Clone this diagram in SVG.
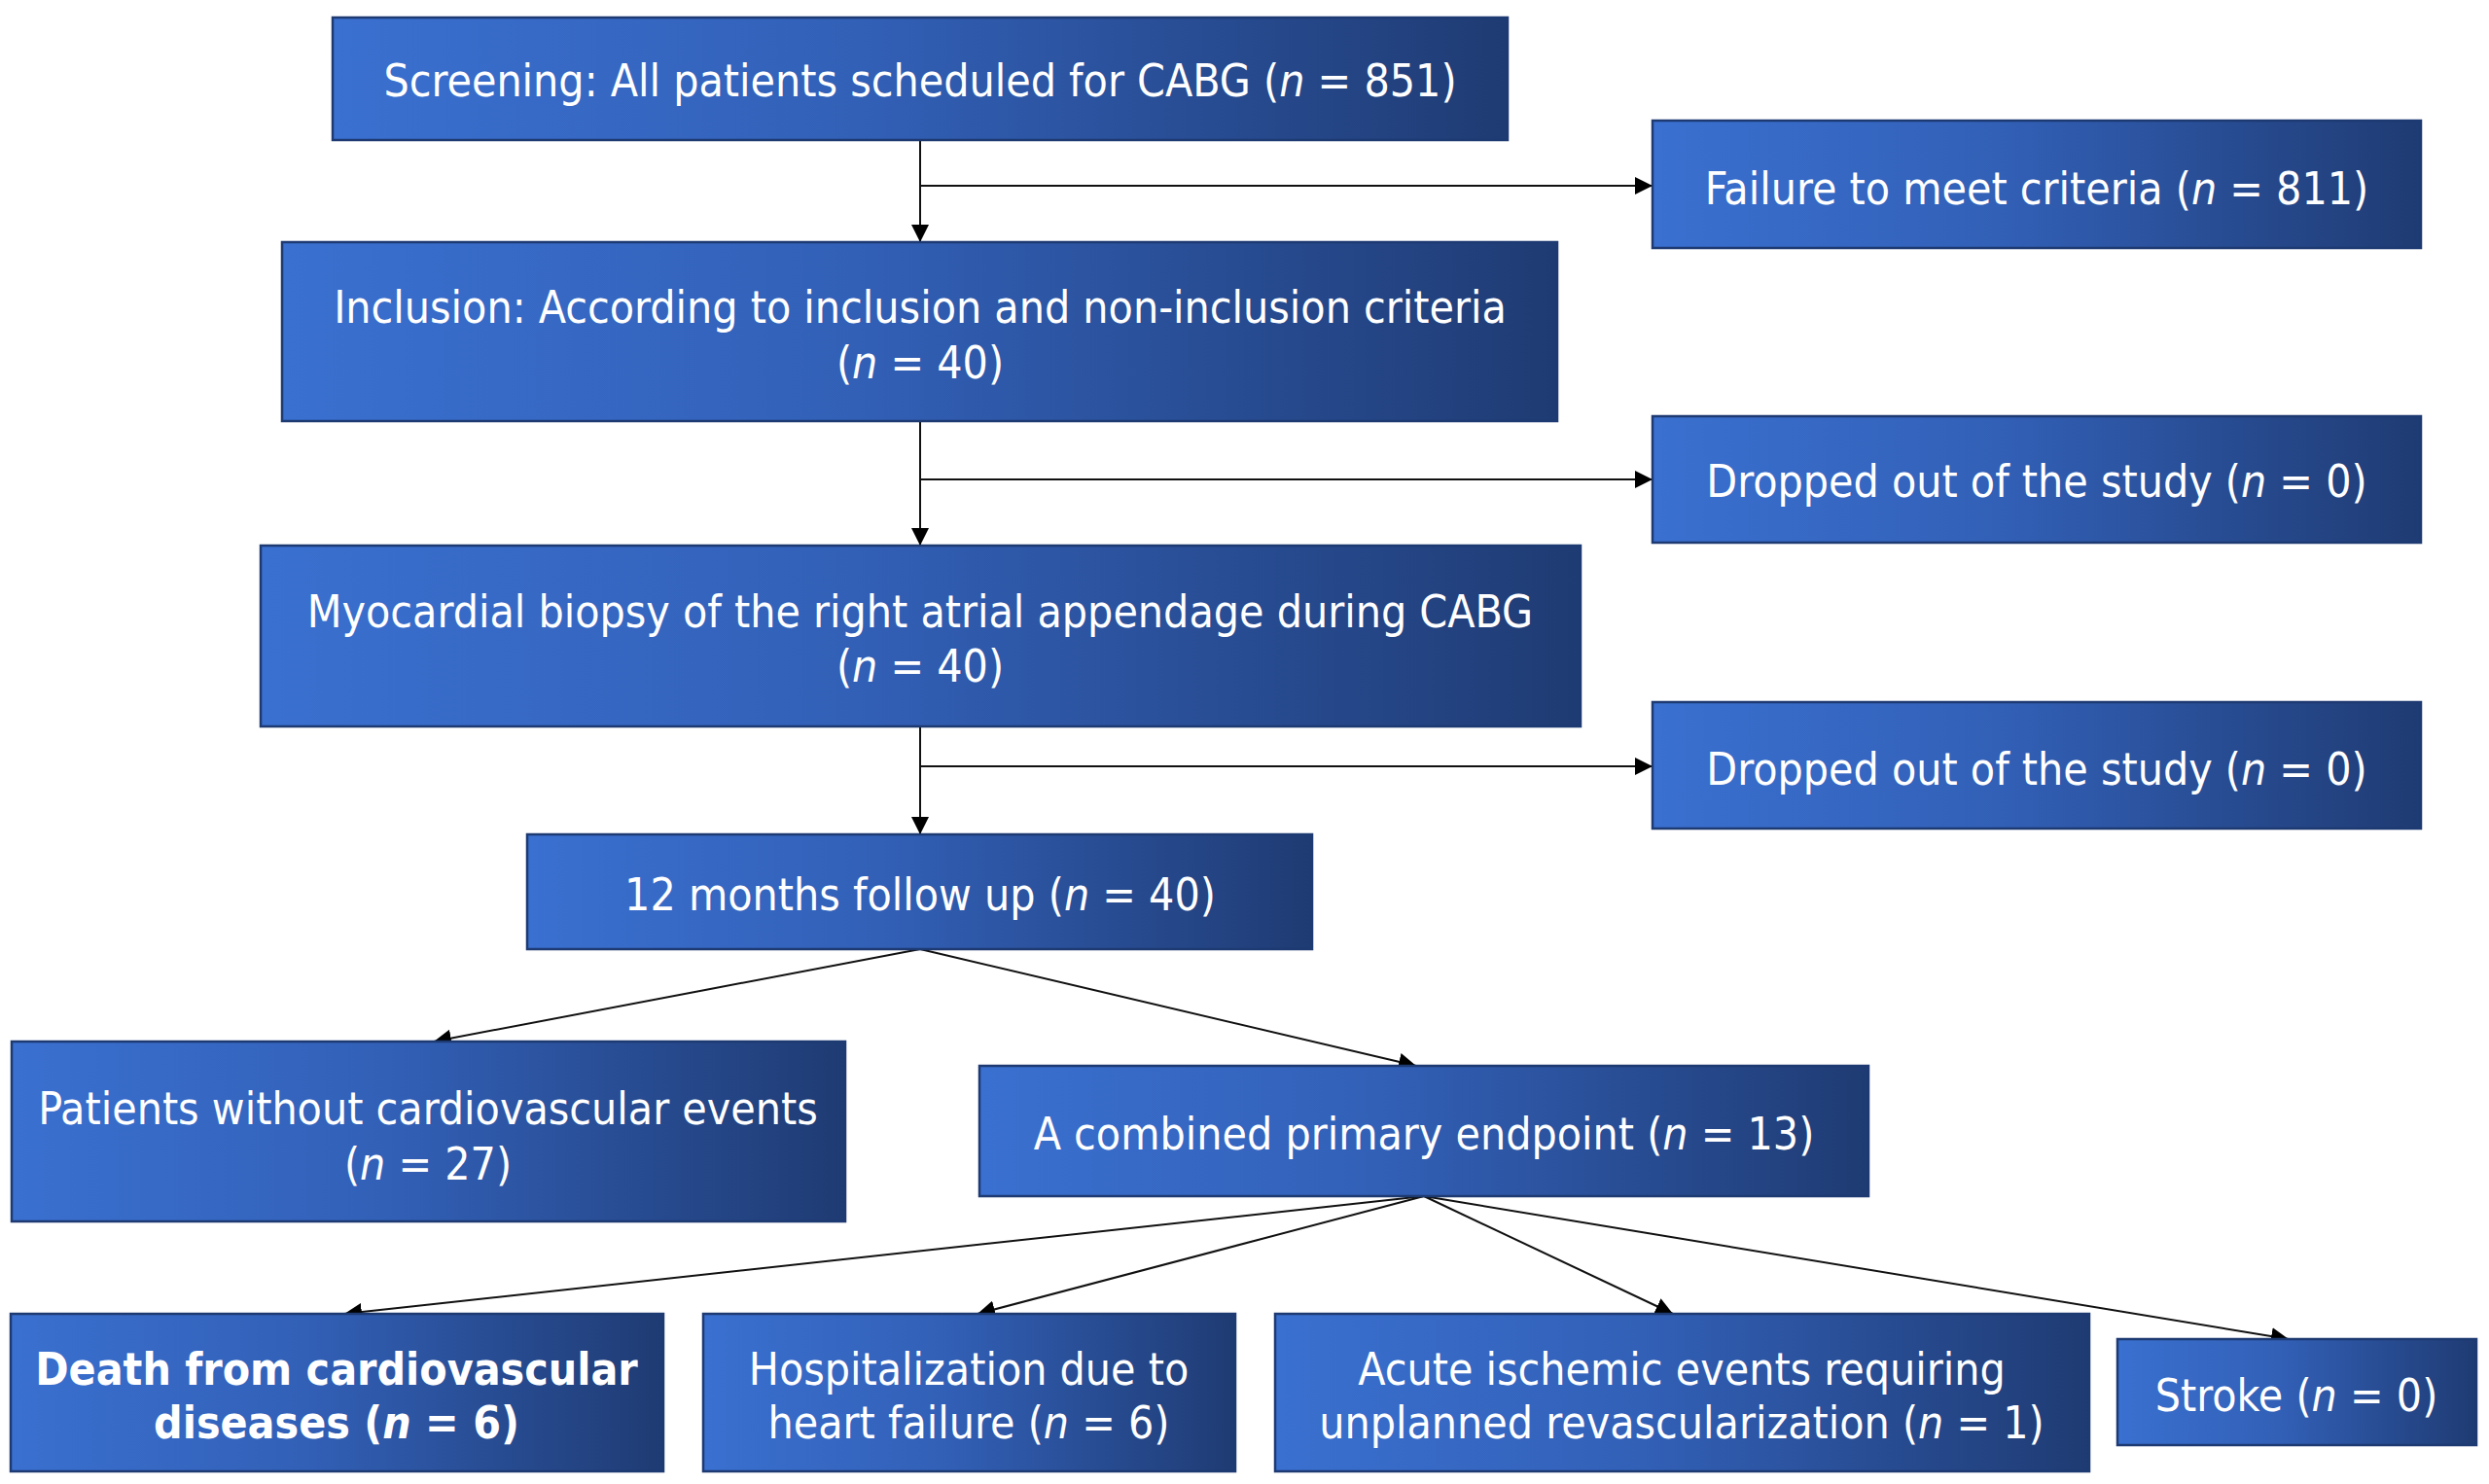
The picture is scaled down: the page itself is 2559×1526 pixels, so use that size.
<svg xmlns="http://www.w3.org/2000/svg" width="2559" height="1526" viewBox="0 0 2559 1526">
<defs>
<linearGradient id="g" x1="0" y1="0" x2="1" y2="0">
<stop offset="0" stop-color="#3A70D0"/>
<stop offset="0.45" stop-color="#3260B7"/>
<stop offset="1" stop-color="#1F3B73"/>
</linearGradient>
<marker id="ah" markerUnits="userSpaceOnUse" markerWidth="20" markerHeight="20" refX="18" refY="9" orient="auto">
<path d="M0,0 L18,9 L0,18 z" fill="#000"/>
</marker>
<style>
.box{fill:url(#g);stroke:#1E3A72;stroke-width:2.5}
.t{font-family:"DejaVu Sans Condensed","DejaVu Sans",sans-serif;font-size:46px;fill:#fff;text-anchor:middle}
.b{font-weight:bold}
.i{font-style:italic}
.c{fill:none;stroke:#111;stroke-width:2;marker-end:url(#ah)}
.l{fill:none;stroke:#111;stroke-width:2}
</style>
</defs>
<rect width="2559" height="1526" fill="#fff"/>
<g id="connectors">
<line class="l" x1="946" y1="144" x2="946" y2="191"/>
<line class="c" x1="946" y1="191" x2="946" y2="249"/>
<line class="c" x1="946" y1="191" x2="1699" y2="191"/>
<line class="l" x1="946" y1="433" x2="946" y2="493"/>
<line class="c" x1="946" y1="493" x2="946" y2="561"/>
<line class="c" x1="946" y1="493" x2="1699" y2="493"/>
<line class="l" x1="946" y1="747" x2="946" y2="788"/>
<line class="c" x1="946" y1="788" x2="946" y2="858"/>
<line class="c" x1="946" y1="788" x2="1699" y2="788"/>
<line class="c" x1="946" y1="976" x2="446" y2="1071"/>
<line class="c" x1="946" y1="976" x2="1456" y2="1096"/>
<line class="c" x1="1464" y1="1230" x2="354" y2="1351"/>
<line class="c" x1="1464" y1="1230" x2="1005" y2="1351"/>
<line class="c" x1="1464" y1="1230" x2="1720" y2="1351"/>
<line class="c" x1="1464" y1="1230" x2="2353" y2="1377"/>
</g>
<g id="screening">
<rect class="box" x="342" y="18" width="1208" height="126"/>
<text class="t" x="946" y="99">Screening: All patients scheduled for CABG (<tspan class="i">n</tspan> = 851)</text>
</g>
<g id="failure">
<rect class="box" x="1699" y="124" width="790" height="131"/>
<text class="t" x="2094" y="210">Failure to meet criteria (<tspan class="i">n</tspan> = 811)</text>
</g>
<g id="inclusion">
<rect class="box" x="290" y="249" width="1311" height="184"/>
<text class="t" x="946" y="332">Inclusion: According to inclusion and non-inclusion criteria</text>
<text class="t" x="946" y="389">(<tspan class="i">n</tspan> = 40)</text>
</g>
<g id="dropped1">
<rect class="box" x="1699" y="428" width="790" height="130"/>
<text class="t" x="2094" y="511">Dropped out of the study (<tspan class="i">n</tspan> = 0)</text>
</g>
<g id="biopsy">
<rect class="box" x="268" y="561" width="1357" height="186"/>
<text class="t" x="946" y="645">Myocardial biopsy of the right atrial appendage during CABG</text>
<text class="t" x="946" y="701">(<tspan class="i">n</tspan> = 40)</text>
</g>
<g id="dropped2">
<rect class="box" x="1699" y="722" width="790" height="130"/>
<text class="t" x="2094" y="807">Dropped out of the study (<tspan class="i">n</tspan> = 0)</text>
</g>
<g id="followup">
<rect class="box" x="542" y="858" width="807" height="118"/>
<text class="t" x="946" y="936">12 months follow up (<tspan class="i">n</tspan> = 40)</text>
</g>
<g id="no-events">
<rect class="box" x="12" y="1071" width="857" height="185"/>
<text class="t" x="440" y="1156">Patients without cardiovascular events</text>
<text class="t" x="440" y="1213">(<tspan class="i">n</tspan> = 27)</text>
</g>
<g id="combined">
<rect class="box" x="1007" y="1096" width="914" height="134"/>
<text class="t" x="1464" y="1182">A combined primary endpoint (<tspan class="i">n</tspan> = 13)</text>
</g>
<g id="death">
<rect class="box" x="11" y="1351" width="671" height="162"/>
<text class="t b" x="346" y="1424">Death from cardiovascular</text>
<text class="t b" x="346" y="1479">diseases (<tspan class="i">n</tspan> = 6)</text>
</g>
<g id="hospitalization">
<rect class="box" x="723" y="1351" width="547" height="162"/>
<text class="t" x="996" y="1424">Hospitalization due to</text>
<text class="t" x="996" y="1479">heart failure (<tspan class="i">n</tspan> = 6)</text>
</g>
<g id="acute">
<rect class="box" x="1311" y="1351" width="837" height="162"/>
<text class="t" x="1729" y="1424">Acute ischemic events requiring</text>
<text class="t" x="1729" y="1479">unplanned revascularization (<tspan class="i">n</tspan> = 1)</text>
</g>
<g id="stroke">
<rect class="box" x="2177" y="1377" width="369" height="109"/>
<text class="t" x="2361" y="1451">Stroke (<tspan class="i">n</tspan> = 0)</text>
</g>
</svg>
